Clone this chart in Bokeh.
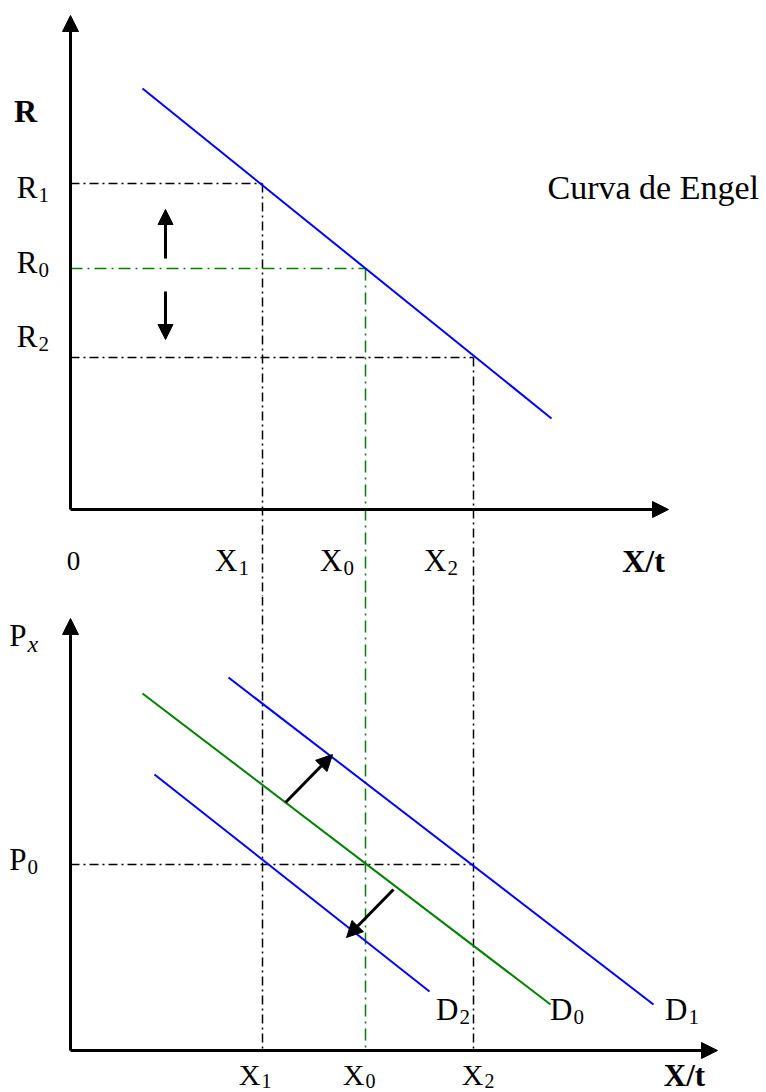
from bokeh.plotting import figure
from bokeh.layouts import column
from bokeh.models import Range1d, Arrow, NormalHead
from bokeh.core.properties import value
from bokeh.embed import file_html
from bokeh.resources import INLINE

# ---------------- data (quantity / income / price units) ----------------
x_subs = ["1", "0", "2"]            # X1, X0, X2
x_vals = [192, 295, 403]
r_subs = ["1", "0", "2"]            # R1, R0, R2
r_vals = [326, 241, 152]
level_colors = ["black", "green", "black"]
p0_val = 186

engel_x = [72, 481]
engel_r = [421, 91]

d0_x = [72, 480]
d0_p = [357, 46]
d1_x = [158, 583]
d1_p = [373, 46]
d2_x = [84, 359]
d2_p = [276, 59]
d_names = ["D", "D", "D"]
d_subs = ["0", "1", "2"]

income_up_x, income_up_y = [95, 95], [251, 300]
income_down_x, income_down_y = [95, 95], [218, 170]
shift_right_x, shift_right_y = [215, 262], [248, 296]
shift_left_x, shift_left_y = [323, 276], [161, 113]

top_axis_len = (598, 494)
bot_axis_len = (647, 432)

# ---------------- styling ----------------
SERIF = value("Liberation Serif")
BLUE = "#0000ff"
GREEN = "#008000"
DASH_K = "9 4 2 4"
DASH_G = "12 5 2 5"

XR = Range1d(-70, 696)


def make_fig(h, y0, y1):
    p = figure(width=766, height=h, x_range=XR, y_range=Range1d(y0, y1),
               output_backend="svg", toolbar_location=None,
               x_axis_location=None, y_axis_location=None, min_border=0)
    p.grid.grid_line_color = None
    p.outline_line_color = None
    p.background_fill_color = "white"
    p.border_fill_color = "white"
    return p


def txt(p, x, y, s, size, align="left", style="normal", color="black"):
    p.text(x=[x], y=[y], text=[s], text_font=SERIF, text_font_size=f"{size}px",
           text_align=align, text_baseline="alphabetic", text_font_style=style,
           text_color=color)


def sublabel(p, xs, y, main, sub, msize=31, ssize=21, drop=7, sub_style="normal"):
    txt(p, xs, y, main, msize, align="right")
    txt(p, xs + 1, y - drop, sub, ssize, align="left", style=sub_style)


def arrow(p, xs, ys, width=3, size=16):
    p.add_layout(Arrow(end=NormalHead(size=size, fill_color="black", line_color="black", line_width=1),
                       x_start=xs[0], y_start=ys[0], x_end=xs[1], y_end=ys[1],
                       line_width=width, line_color="black"))


# ================= top panel: Engel curve =================
top = make_fig(596, -87, 509)
y_bottom_top = -87

for xv, rv, col in zip(x_vals, r_vals, level_colors):
    dash = DASH_G if col == "green" else DASH_K
    lc = GREEN if col == "green" else "black"
    top.line([0, xv], [rv, rv], line_color=lc, line_width=1.5, line_dash=dash)
    top.line([xv, xv], [rv, y_bottom_top], line_color=lc, line_width=1.5, line_dash=dash)

top.line(engel_x, engel_r, line_color=BLUE, line_width=2)

arrow(top, [0, 0], [0, top_axis_len[1]], width=3, size=16)
arrow(top, [0, top_axis_len[0]], [0, 0], width=3, size=16)
arrow(top, income_up_x, income_up_y, width=3, size=15)
arrow(top, income_down_x, income_down_y, width=3, size=15)

txt(top, -45, 399, "R", 32, align="center", style="bold")
sublabel(top, -33, 322, "R", r_subs[0])
sublabel(top, -33, 247, "R", r_subs[1])
sublabel(top, -33, 173, "R", r_subs[2])
txt(top, 477, 322, "Curva de Engel", 34)

txt(top, 3, -51, "0", 27, align="center")
x_label_right = [167, 272, 376]
for xr, s in zip(x_label_right, x_subs):
    sublabel(top, xr, -51, "X", s)
txt(top, 573, -51, "X/t", 32, align="center", style="bold")

# ================= bottom panel: demand shifts =================
bot = make_fig(496, -42, 454)
y_top_bot = 454

for xv, col in zip(x_vals, level_colors):
    dash = DASH_G if col == "green" else DASH_K
    lc = GREEN if col == "green" else "black"
    bot.line([xv, xv], [y_top_bot, 0], line_color=lc, line_width=1.5, line_dash=dash)

bot.line([0, x_vals[2]], [p0_val, p0_val], line_color="black", line_width=1.5, line_dash=DASH_K)

bot.line(d1_x, d1_p, line_color=BLUE, line_width=2)
bot.line(d0_x, d0_p, line_color=GREEN, line_width=2)
bot.line(d2_x, d2_p, line_color=BLUE, line_width=2)

arrow(bot, [0, 0], [0, bot_axis_len[1]], width=3, size=16)
arrow(bot, [0, bot_axis_len[0]], [0, 0], width=3, size=16)
arrow(bot, shift_right_x, shift_right_y, width=3, size=16)
arrow(bot, shift_left_x, shift_left_y, width=3, size=16)

sublabel(bot, -44, 415, "P", "x", drop=8, ssize=24, sub_style="italic")
sublabel(bot, -44, 191, "P", "0")

d_label_right = [502, 617, 388]
for xr, n, s in zip(d_label_right, d_names, d_subs):
    sublabel(bot, xr, 41, n, s)

x_label_right_b = [190, 294, 413]
for xr, s in zip(x_label_right_b, x_subs):
    sublabel(bot, xr, -24, "X", s, drop=6, msize=30, ssize=20)
txt(bot, 614, -25, "X/t", 31, align="center", style="bold")

layout = column(top, bot, spacing=0)
open("out.html", "w").write(file_html(layout, INLINE))
